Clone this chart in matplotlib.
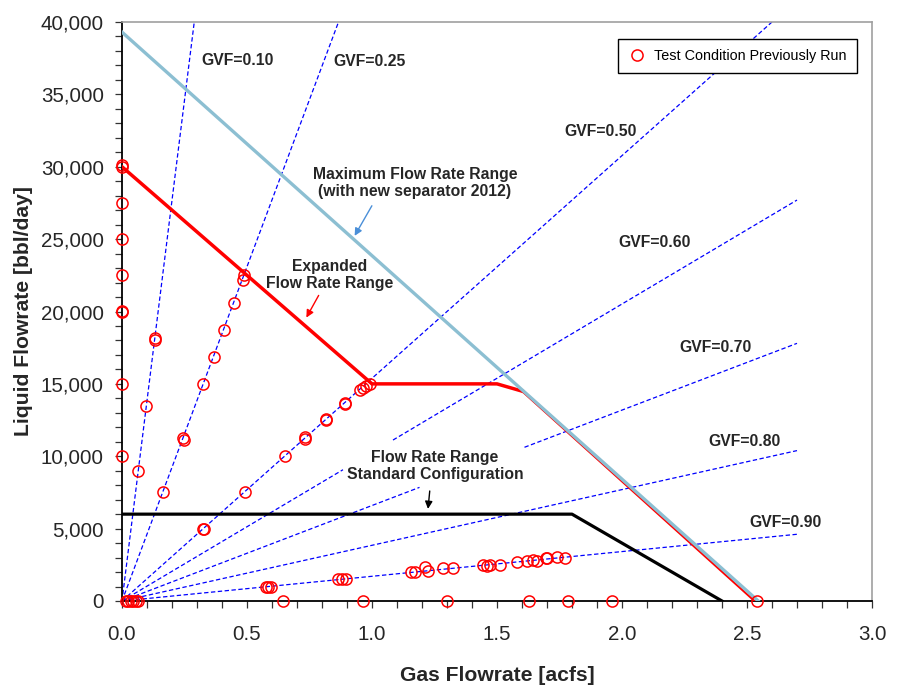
import numpy as np
import matplotlib
matplotlib.use("Agg")
import matplotlib.pyplot as plt
from matplotlib import font_manager
from matplotlib.ticker import MultipleLocator, FuncFormatter

# pick a narrow font for the labels if there is one
try:
    font_manager.findfont("Liberation Sans Narrow", fallback_to_default=False)
    narrow = "Liberation Sans Narrow"
except Exception:
    narrow = None
print("narrow font:", narrow)

plt.rcParams['font.family'] = ['Liberation Sans', 'DejaVu Sans']

# Test points previously run (gas acfs, liquid bbl/day)
pts_x = [0.0, 0.0, 0.0, 0.0, 0.0, 0.0, 0.0, 0.0, 0.0,
         0.130, 0.132, 0.0975, 0.065,
         0.487, 0.483, 0.446, 0.406, 0.366, 0.325, 0.244, 0.246, 0.162,
         0.95, 0.965, 0.975, 0.99, 0.89, 0.892, 0.815, 0.817, 0.73, 0.733, 0.65, 0.49, 0.325, 0.327,
         0.575, 0.585, 0.595, 0.865, 0.88, 0.895, 1.155, 1.17, 1.21, 1.225, 1.285, 1.325,
         1.445, 1.46, 1.47, 1.51, 1.58, 1.62, 1.645, 1.66, 1.695, 1.70, 1.74, 1.77,
         0.015, 0.025, 0.035, 0.045, 0.055, 0.065, 0.645, 0.965, 1.30, 1.628, 1.785, 1.96, 2.54]
pts_y = [30000, 30150, 27500, 25000, 22500, 20000, 20050, 15000, 10000,
         18000, 18150, 13500, 9000,
         22500, 22150, 20600, 18750, 16875, 15000, 11250, 11100, 7500,
         14600, 14700, 14850, 15000, 13700, 13600, 12600, 12500, 11300, 11200, 10000, 7500, 5000, 4950,
         1000, 1000, 1000, 1500, 1500, 1500, 2000, 2000, 2350, 2100, 2250, 2250,
         2500, 2450, 2480, 2500, 2700, 2780, 2800, 2750, 2950, 2950, 3050, 3000,
         0, 0, 0, 0, 0, 0, 0, 0, 0, 0, 0, 0, 0]

# operating envelopes
max_x = [0.0, 2.545]
max_y = [39300, 0]
exp_x = [0.0, 1.0, 1.5, 1.6]
exp_y = [30000, 15000, 15000, 14500]
exp_tail_x = [1.6, 2.53]
exp_tail_y = [14500, 0]
std_x = [0.0, 1.8, 2.4]
std_y = [6000, 6000, 0]

# constant GVF lines (nan = gap in the line)
gvf10_x, gvf10_y = [0, 0.289], [0, 40000]
gvf25_x, gvf25_y = [0, 0.866], [0, 40000]
gvf50_x, gvf50_y = [0, 2.6], [0, 40000]
gvf60_x, gvf60_y = [0, 0.884, np.nan, 1.084, 2.7], [0, 9070, np.nan, 11120, 27700]
gvf70_x, gvf70_y = [0, 1.19, np.nan, 1.61, 2.7], [0, 7850, np.nan, 10620, 17800]
gvf80_x, gvf80_y = [0, 2.7], [0, 10390]
gvf90_x, gvf90_y = [0, 2.7], [0, 4610]

gvf_labels = ["GVF=0.10", "GVF=0.25", "GVF=0.50", "GVF=0.60", "GVF=0.70", "GVF=0.80", "GVF=0.90"]
gvf_lab_x = [0.464, 0.99, 1.913, 2.13, 2.374, 2.488, 2.652]
gvf_lab_y = [37370, 37240, 32420, 24750, 17530, 11010, 5410]

fig = plt.figure(figsize=(8.98, 6.90), dpi=100)
ax = fig.add_axes([122/898, 1-601/690, 750/898, 579/690])

if narrow:
    lab_font = dict(family=[narrow, 'Liberation Sans'], fontweight='bold', fontsize=13.4)
    leg_font = dict(family=[narrow, 'Liberation Sans'], size=12.2)
else:
    lab_font = dict(fontweight='bold', fontsize=11.3)
    leg_font = dict(size=10.4)

for gx, gy in [(gvf10_x, gvf10_y), (gvf25_x, gvf25_y), (gvf50_x, gvf50_y), (gvf60_x, gvf60_y),
               (gvf70_x, gvf70_y), (gvf80_x, gvf80_y), (gvf90_x, gvf90_y)]:
    ax.plot(gx, gy, color='#0000ff', lw=0.9, dashes=(3.5, 2), zorder=2)

ax.plot(std_x, std_y, color='black', lw=2.3, zorder=3)
ax.plot(exp_x, exp_y, color='#ff0000', lw=2.5, zorder=3, solid_joinstyle='miter')
ax.plot(exp_tail_x, exp_tail_y, color='#ff0000', lw=1.5, zorder=3)
ax.plot(max_x, max_y, color='#8cbfd2', lw=2.4, zorder=4)

ax.plot(pts_x, pts_y, 'o', ls='none', mfc='none', mec='#ff0000', ms=8, mew=1.1,
        zorder=6, clip_on=False, label='Test Condition Previously Run')

for t, tx, ty in zip(gvf_labels, gvf_lab_x, gvf_lab_y):
    ax.text(tx, ty, t, ha='center', va='center', color='#262626', **lab_font)

ax.text(1.172, 28880, "Maximum Flow Rate Range\n(with new separator 2012)", ha='center', va='center',
        color='#262626', linespacing=1.1, **lab_font)
ax.annotate("", xy=(0.925, 25060), xytext=(1.005, 27470),
            arrowprops=dict(arrowstyle='-|>', color='#4a8fd8', lw=1, mutation_scale=11))
ax.text(0.832, 22520, "Expanded\nFlow Rate Range", ha='center', va='center',
        color='#262626', linespacing=1.1, **lab_font)
ax.annotate("", xy=(0.732, 19410), xytext=(0.792, 21280),
            arrowprops=dict(arrowstyle='-|>', color='#ff0000', lw=1, mutation_scale=11))
ax.text(1.252, 9330, "Flow Rate Range\nStandard Configuration", ha='center', va='center',
        color='#262626', linespacing=1.1, **lab_font)
ax.annotate("", xy=(1.223, 6170), xytext=(1.232, 7790),
            arrowprops=dict(arrowstyle='-|>', color='black', lw=1, mutation_scale=11))

ax.set_xlim(0, 3.0)
ax.set_ylim(0, 40000)
ax.xaxis.set_major_locator(MultipleLocator(0.5))
ax.xaxis.set_minor_locator(MultipleLocator(0.1))
ax.yaxis.set_major_locator(MultipleLocator(5000))
ax.yaxis.set_minor_locator(MultipleLocator(1000))
ax.xaxis.set_major_formatter(FuncFormatter(lambda v, p: f"{v:.1f}"))
ax.yaxis.set_major_formatter(FuncFormatter(lambda v, p: f"{v:,.0f}"))
ax.tick_params(which='both', direction='out', length=5, width=0.9, color='#333333')
ax.tick_params(axis='x', which='major', labelsize=14.8, pad=12, labelcolor='#262626')
ax.tick_params(axis='y', which='major', labelsize=14.8, pad=8, labelcolor='#262626')

for s in ['left', 'bottom']:
    ax.spines[s].set_color('black')
    ax.spines[s].set_linewidth(1.3)
for s in ['top', 'right']:
    ax.spines[s].set_color('#a0a0a0')
    ax.spines[s].set_linewidth(1.2)

ax.set_xlabel("Gas Flowrate [acfs]", fontsize=15.2, fontweight='bold', color='#262626')
ax.set_ylabel("Liquid Flowrate [bbl/day]", fontsize=15.2, fontweight='bold', color='#262626')
ax.xaxis.set_label_coords(0.5, -0.112)
ax.yaxis.set_label_coords(-0.119, 0.5)

leg = ax.legend(loc='upper right', bbox_to_anchor=(0.98, 0.971), borderaxespad=0,
                fancybox=False, framealpha=1, edgecolor='black', prop=leg_font,
                handletextpad=0.6, borderpad=0.7, handlelength=1.2)
leg.get_frame().set_linewidth(1.0)
leg.set_zorder(10)

fig.savefig("out.png", dpi=100)
